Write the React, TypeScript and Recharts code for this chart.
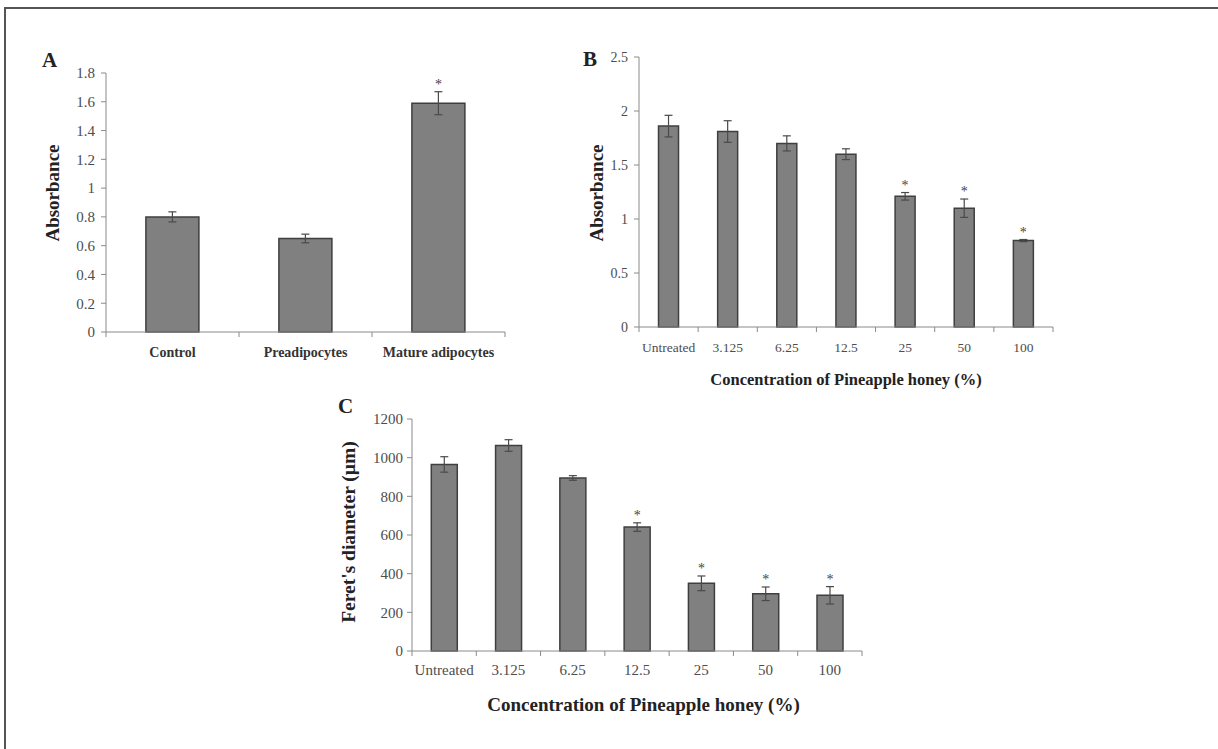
import { ComposedChart, Bar, XAxis, YAxis, ErrorBar, LabelList } from "recharts";

const SERIF = "'Liberation Serif', 'Times New Roman', serif";

// Panel A
const cellTypes = ["Control", "Preadipocytes", "Mature adipocytes"];
const absorbanceA = [0.8, 0.65, 1.59];
const errorA = [0.035, 0.03, 0.08];
const signifA = [false, false, true];
const ticksA = [0, 0.2, 0.4, 0.6, 0.8, 1, 1.2, 1.4, 1.6, 1.8];

// Panel B
const concentrations = ["Untreated", "3.125", "6.25", "12.5", "25", "50", "100"];
const absorbanceB = [1.86, 1.81, 1.7, 1.6, 1.21, 1.1, 0.8];
const errorB = [0.1, 0.1, 0.07, 0.05, 0.035, 0.085, 0.01];
const signifB = [false, false, false, false, true, true, true];
const ticksB = [0, 0.5, 1, 1.5, 2, 2.5];

// Panel C
const feretC = [965, 1063, 895, 641, 350, 296, 288];
const errorC = [40, 30, 12, 22, 38, 35, 45];
const signifC = [false, false, false, true, true, true, true];
const ticksC = [0, 200, 400, 600, 800, 1000, 1200];

const toRows = (cats: string[], vals: number[], errs: number[], sig: boolean[]) =>
  cats.map((name, i) => ({ name, value: vals[i], err: errs[i], star: sig[i] }));

const rowsA = toRows(cellTypes, absorbanceA, errorA, signifA);
const rowsB = toRows(concentrations, absorbanceB, errorB, signifB);
const rowsC = toRows(concentrations, feretC, errorC, signifC);

const AXIS = "#8a8a8a";
const TEXT = "#4d4d4d";

// category label in the middle, small tick marks on the category edges
function EdgeTick(props: any) {
  const { x, y, payload, index, count, fontSize, fontWeight, dy } = props;
  const half = payload?.offset ?? 0;
  return (
    <g>
      <line x1={x - half} x2={x - half} y1={y} y2={y + 5} stroke={AXIS} />
      {index === count - 1 && <line x1={x + half} x2={x + half} y1={y} y2={y + 5} stroke={AXIS} />}
      <text x={x} y={y + dy} textAnchor="middle" fontSize={fontSize} fontWeight={fontWeight} fill={fontWeight === "bold" ? "#333" : TEXT} fontFamily={SERIF}>
        {payload.value}
      </text>
    </g>
  );
}

const starLabel = (rows: any[]) => (p: any) => {
  const { x, y, width, height, index } = p;
  const r = rows[index];
  if (!r || !r.star) return null;
  const errPx = (r.err * height) / r.value;
  return (
    <text x={x + width / 2} y={y - errPx - 3} textAnchor="middle" fontSize={14} fill="#444" fontFamily={SERIF}>
      *
    </text>
  );
};

function Panel({ rows, ticks, pos, margin, yWidth, gap, tickFont, catFont, catWeight, labelDy, yTickMargin }: any) {
  return (
    <div style={{ position: "absolute", left: pos[0], top: pos[1] }}>
      <ComposedChart width={pos[2]} height={pos[3]} data={rows} margin={margin} barCategoryGap={gap}>
        <XAxis
          dataKey="name"
          height={30}
          stroke={AXIS}
          tickLine={false}
          tickSize={0}
          tickMargin={0}
          interval={0}
          tick={(t: any) => (
            <EdgeTick {...t} count={rows.length} fontSize={catFont} fontWeight={catWeight} dy={labelDy} />
          )}
        />
        <YAxis
          width={yWidth}
          domain={[0, ticks[ticks.length - 1]]}
          ticks={ticks}
          interval={0}
          stroke={AXIS}
          tickSize={5}
          tickMargin={yTickMargin}
          tick={{ fill: TEXT, fontSize: tickFont, fontFamily: SERIF }}
        />
        <Bar dataKey="value" fill="#808080" stroke="#3f3f3f" strokeWidth={1.5} isAnimationActive={false}>
          <ErrorBar dataKey="err" width={4} stroke="#4a4a4a" strokeWidth={1.2} />
          <LabelList dataKey="value" content={starLabel(rows)} />
        </Bar>
      </ComposedChart>
    </div>
  );
}

export default function App() {
  return (
    <div style={{ position: "absolute", left: 0, top: 0, width: 1218, height: 749, background: "#fff", overflow: "hidden" }}>
      <div style={{ position: "absolute", left: 4, top: 7, width: 1214, height: 742, borderTop: "2px solid #555", borderLeft: "2px solid #555" }} />

      <Panel
        rows={rowsA}
        ticks={ticksA}
        pos={[0, 0, 520, 380]}
        margin={{ top: 73, right: 15, left: 66, bottom: 18 }}
        yWidth={40}
        gap="30%"
        tickFont={15}
        catFont={14}
        catWeight="bold"
        labelDy={25}
        yTickMargin={6}
      />
      <Panel
        rows={rowsB}
        ticks={ticksB}
        pos={[560, 0, 520, 380]}
        margin={{ top: 57, right: 27, left: 39, bottom: 23 }}
        yWidth={40}
        gap="33%"
        tickFont={14}
        catFont={13.5}
        catWeight="normal"
        labelDy={24.5}
        yTickMargin={6}
      />
      <Panel
        rows={rowsC}
        ticks={ticksC}
        pos={[330, 380, 560, 330]}
        margin={{ top: 39, right: 28, left: 37, bottom: 29 }}
        yWidth={45}
        gap="30%"
        tickFont={15}
        catFont={15}
        catWeight="normal"
        labelDy={24}
        yTickMargin={4}
      />

      <svg width={1218} height={749} style={{ position: "absolute", left: 0, top: 0, pointerEvents: "none" }} fontFamily={SERIF} fontWeight="bold" fill="#222">
        <text x={42} y={67} fontSize={21}>A</text>
        <text x={583} y={66} fontSize={21}>B</text>
        <text x={338} y={413} fontSize={21}>C</text>
        <text transform="translate(59,193) rotate(-90)" textAnchor="middle" fontSize={19}>Absorbance</text>
        <text transform="translate(603,193) rotate(-90)" textAnchor="middle" fontSize={19}>Absorbance</text>
        <text transform="translate(355,532) rotate(-90)" textAnchor="middle" fontSize={19.5}>Feret's diameter (µm)</text>
        <text x={846} y={384.5} textAnchor="middle" fontSize={16.5}>Concentration of Pineapple honey (%)</text>
        <text x={643.5} y={711} textAnchor="middle" fontSize={19}>Concentration of Pineapple honey (%)</text>
      </svg>
    </div>
  );
}
